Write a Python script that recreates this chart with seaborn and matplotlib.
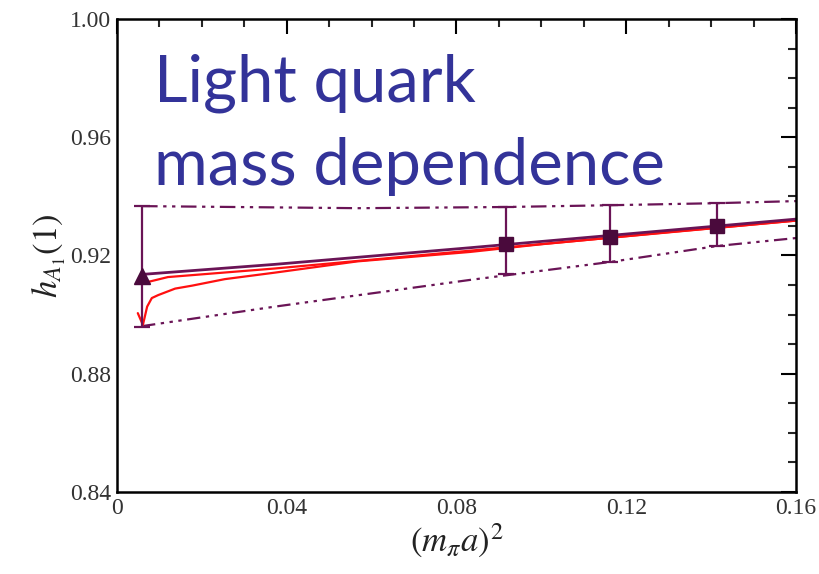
import matplotlib
matplotlib.use("Agg")
import matplotlib.pyplot as plt
import seaborn as sns
import pandas as pd
from matplotlib.ticker import MultipleLocator

# ---- data ----
pt_x = [0.0059, 0.0916, 0.1162, 0.1414]
pt_y = [0.9131, 0.9239, 0.9262, 0.9299]
pt_lo = [0.8959, 0.9137, 0.9178, 0.9232]
pt_hi = [0.9367, 0.9364, 0.9370, 0.9377]

fit_x = [0.0059, 0.0372, 0.083, 0.16]
fit_y = [0.9136, 0.9170, 0.9226, 0.9323]

red_up_x = [0.0049, 0.0066, 0.012, 0.0372, 0.083, 0.16]
red_up_y = [0.9105, 0.9108, 0.9127, 0.9156, 0.9216, 0.9318]

red_lo_x = [0.0049, 0.0061, 0.0071, 0.0082, 0.0097, 0.0137, 0.0177, 0.0254,
            0.0372, 0.0566, 0.0832, 0.10, 0.13, 0.16]
red_lo_y = [0.9005, 0.8965, 0.9027, 0.9056, 0.9066, 0.9088, 0.9098, 0.9120,
            0.9142, 0.9180, 0.9212, 0.9238, 0.9279, 0.9318]

band_lo_x = [0.0059, 0.0372, 0.083, 0.1162, 0.1414, 0.16]
band_lo_y = [0.8961, 0.9027, 0.9117, 0.9178, 0.9232, 0.9259]

band_hi_x = [0.0059, 0.057, 0.0916, 0.1162, 0.1414, 0.16]
band_hi_y = [0.9367, 0.9360, 0.9364, 0.9370, 0.9377, 0.9384]

x_ticks = [0, 0.04, 0.08, 0.12, 0.16]
x_ticklabels = ["0", "0.04", "0.08", "0.12", "0.16"]
y_ticks = [0.84, 0.88, 0.92, 0.96, 1.00]
y_ticklabels = ["0.84", "0.88", "0.92", "0.96", "1.00"]

title_lines = ["Light quark", "mass dependence"]

sns.set_theme(style="white")
plt.rcParams["font.family"] = ["Liberation Serif", "DejaVu Serif"]
plt.rcParams["mathtext.fontset"] = "stix"

PURPLE = "#6a1456"
DARK = "#4a0a3c"
RED = "#ff1010"
BLUE = "#333399"

fig = plt.figure(figsize=(8.2, 5.74), dpi=100)
ax = fig.add_axes([0.1427, 0.1429, 0.9707 - 0.1427, 0.9669 - 0.1429])

dash_style = (0, (7, 2.5, 1.5, 2.5, 1.5, 2.5))
dot_style = (0, (6, 2.5, 1.5, 2.5, 1.5, 2.5, 1.5, 2.5))

sns.lineplot(x=band_hi_x, y=band_hi_y, ax=ax, color=PURPLE, lw=1.6,
             sort=False, estimator=None, linestyle=dash_style)
sns.lineplot(x=band_lo_x, y=band_lo_y, ax=ax, color=PURPLE, lw=1.6,
             sort=False, estimator=None, linestyle=dot_style)
sns.lineplot(x=red_lo_x, y=red_lo_y, ax=ax, color=RED, lw=1.6,
             sort=False, estimator=None)
sns.lineplot(x=red_up_x, y=red_up_y, ax=ax, color=RED, lw=1.6,
             sort=False, estimator=None)
sns.lineplot(x=fit_x, y=fit_y, ax=ax, color=PURPLE, lw=2.0,
             sort=False, estimator=None)

yerr = [[y - lo for y, lo in zip(pt_y, pt_lo)], [hi - y for y, hi in zip(pt_y, pt_hi)]]
ax.errorbar(pt_x, pt_y, yerr=yerr, fmt="none", ecolor=PURPLE, elinewidth=1.6,
            capsize=6, capthick=1.6, zorder=5)
ax.plot(pt_x[:1], pt_y[:1], marker="^", ms=12, color=DARK, ls="none", zorder=6)
ax.plot(pt_x[1:], pt_y[1:], marker="s", ms=10, color=DARK, ls="none", zorder=6)

ax.set_xlim(0, 0.16)
ax.set_ylim(0.84, 1.00)
ax.set_xticks(x_ticks)
ax.set_xticklabels(x_ticklabels)
ax.set_yticks(y_ticks)
ax.set_yticklabels(y_ticklabels)
ax.xaxis.set_minor_locator(MultipleLocator(0.01))
ax.yaxis.set_minor_locator(MultipleLocator(0.01))
ax.tick_params(which="major", direction="in", length=11, width=1.5,
               top=True, right=True, labelsize=17, colors="black", pad=4)
ax.tick_params(which="minor", direction="in", length=6, width=1.5,
               top=True, right=True)
for lab in ax.get_xticklabels() + ax.get_yticklabels():
    lab.set_color("#333333")
for sp in ax.spines.values():
    sp.set_linewidth(1.8)
    sp.set_color("black")

ax.set_xlabel(r"$(m_\pi a)^2$", fontsize=25, labelpad=2, color="#222222")
ax.set_ylabel(r"$h_{A_1}(1)$", fontsize=25, labelpad=2, color="#222222")

fig.text(0.188, 0.824, title_lines[0], fontsize=47,
         family=["Lato", "DejaVu Sans"], color=BLUE, va="baseline", ha="left")
fig.text(0.188, 0.678, title_lines[1], fontsize=47,
         family=["Lato", "DejaVu Sans"], color=BLUE, va="baseline", ha="left")

fig.savefig("out.png", dpi=100)
